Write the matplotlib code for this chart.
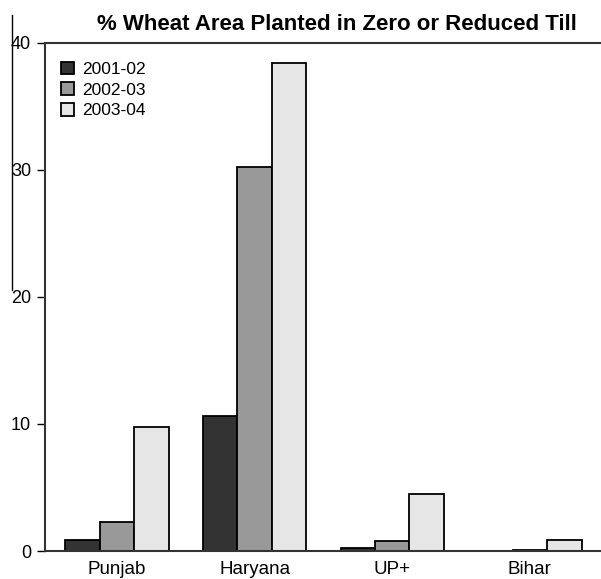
import matplotlib
matplotlib.use('Agg')
import matplotlib.pyplot as plt
from matplotlib.lines import Line2D
import numpy as np

plt.rcParams['font.family'] = ['Liberation Sans', 'DejaVu Sans']

# Daten
regions = ['Punjab', 'Haryana', 'UP+', 'Bihar']
years = ['2001-02', '2002-03', '2003-04']
share_2001 = [0.9, 10.6, 0.2, 0.0]
share_2002 = [2.3, 30.2, 0.8, 0.05]
share_2003 = [9.8, 38.4, 4.5, 0.9]
colors = ['#333333', '#999999', '#e6e6e6']

fig = plt.figure(figsize=(6.01, 5.79), dpi=100)
W, H = 601, 579
ax = fig.add_axes([45 / W, 1 - 551 / H, (640 - 45) / W, (551 - 43) / H])

x = np.arange(len(regions))
width = 0.25
for i, (vals, col, lab) in enumerate(zip([share_2001, share_2002, share_2003], colors, years)):
    ax.bar(x + (i - 1) * width, vals, width, color=col, edgecolor='black', linewidth=1.3, label=lab)

ax.set_xlim(-0.523, 3.80)
ax.set_ylim(0, 40)
ax.set_yticks([0, 10, 20, 30, 40])
ax.set_xticks(x)
ax.set_xticklabels(regions, fontsize=13.5)
ax.tick_params(axis='y', labelsize=13, length=6, width=1, pad=4)
ax.tick_params(axis='x', length=0, pad=7)
for s in ax.spines.values():
    s.set_linewidth(1.5)
    s.set_color('#333333')

ax.legend(loc='upper left', frameon=False, fontsize=12.5, handlelength=0.75, handleheight=0.75,
          handletextpad=0.5, labelspacing=0.3, borderaxespad=0.0, bbox_to_anchor=(0.015, 0.977))

fig.text(337 / W, 1 - 24 / H, '% Wheat Area Planted in Zero or Reduced Till',
         ha='center', va='center', fontsize=16, fontweight='bold')

# senkrechte Linie links (wie im Original)
fig.add_artist(Line2D([12 / W, 12 / W], [1 - 15 / H, 1 - 290 / H], color='black', linewidth=1))

fig.savefig('out.png', dpi=100)
